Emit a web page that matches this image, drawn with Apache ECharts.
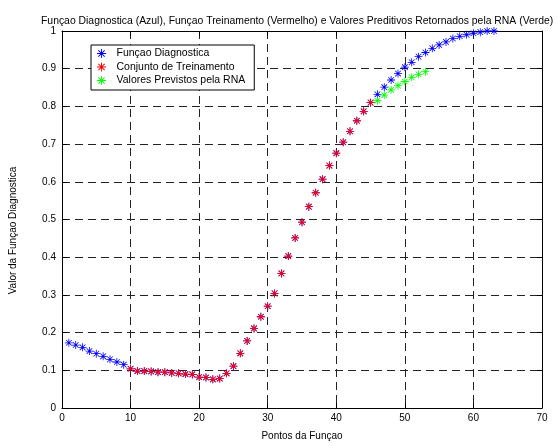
<!DOCTYPE html>
<html>
<head>
<meta charset="utf-8">
<script src="https://cdn.jsdelivr.net/npm/echarts@6/dist/echarts.min.js"></script>
<style>
html,body{margin:0;padding:0;background:#fff;}
#chart{width:557px;height:446px;}
</style>
</head>
<body>
<div id="chart"></div>
<script>
// dados
var xDiag = [];
for (var i = 1; i <= 63; i++) xDiag.push(i);
var yDiag = [0.173,0.167,0.161,0.151,0.144,0.137,0.129,0.122,0.115,0.104,
	0.098,0.098,0.097,0.095,0.095,0.093,0.092,0.090,0.089,0.082,
	0.081,0.076,0.078,0.092,0.111,0.145,0.178,0.211,0.242,0.270,
	0.304,0.357,0.403,0.451,0.493,0.534,0.571,0.607,0.643,0.676,
	0.705,0.734,0.762,0.787,0.810,0.832,0.851,0.870,0.887,0.904,
	0.917,0.932,0.943,0.954,0.963,0.971,0.980,0.986,0.990,0.994,
	0.997,1.000,1.000];
var xTrein = [10,11,12,13,14,15,16,17,18,19,20,21,22,23,24,25,26,27,28,29,30,31,32,33,34,35,36,37,38,39,40,41,42,43,44,45];
var yTrein = [0.104,0.098,0.098,0.097,0.095,0.095,0.093,0.092,0.090,0.089,
	0.082,0.081,0.076,0.078,0.092,0.111,0.145,0.178,0.211,0.242,
	0.270,0.304,0.357,0.403,0.451,0.493,0.534,0.571,0.607,0.643,
	0.676,0.705,0.734,0.762,0.787,0.810];
var xPrev = [46,47,48,49,50,51,52,53];
var yPrev = [0.815,0.830,0.844,0.855,0.866,0.877,0.885,0.892];

var nomes = ['Funçao Diagnostica','Conjunto de Treinamento','Valores Previstos pela RNA'];

// asterisco estilo matlab
var star = 'path://M9 0L11 0L11 20L9 20ZM0 9L20 9L20 11L0 11Z' +
	'M2.3 3.7L3.7 2.3L17.7 16.3L16.3 17.7ZM16.3 2.3L17.7 3.7L3.7 17.7L2.3 16.3Z';

function pares(xs, ys){
	var out = [];
	for (var i = 0; i < xs.length; i++) out.push([xs[i], ys[i]]);
	return out;
}

var fonte = 'Arial, "Liberation Sans", Helvetica, sans-serif';
var grade = {show:true, lineStyle:{color:'#222', type:[8,5], width:1}};
var linha = {show:true, onZero:false, lineStyle:{color:'#000', width:1}};
var tick = {show:true, inside:true, length:5, lineStyle:{color:'#000'}};

var myChart = echarts.init(document.getElementById('chart'));
var option = {
	backgroundColor:'#fff',
	animation:false,
	title:{
		text:'Funçao Diagnostica (Azul), Funçao Treinamento (Vermelho) e Valores Preditivos Retornados pela RNA (Verde)',
		left:36, top:11,
		textStyle:{fontSize:10.4, fontWeight:'normal', color:'#000', fontFamily:fonte}
	},
	grid:{left:61, right:15, top:31, bottom:38},
	legend:{
		orient:'vertical', left:91, top:45,
		data:nomes,
		icon:star,
		itemWidth:20, itemHeight:9, itemGap:2.5,
		padding:[3,9,4,6],
		borderColor:'#000', borderWidth:1, backgroundColor:'#fff',
		textStyle:{fontSize:10.5, color:'#000', fontFamily:fonte}
	},
	xAxis:[{
		type:'value', min:0, max:70, interval:10,
		name:'Pontos da Funçao', nameLocation:'middle', nameGap:23,
		nameTextStyle:{fontSize:10, color:'#000', fontFamily:fonte},
		axisLine:linha, axisTick:tick, splitLine:grade,
		axisLabel:{fontSize:10, color:'#000', fontFamily:fonte, margin:5}
	},{
		type:'value', min:0, max:70, interval:10, position:'top',
		axisLine:linha, axisTick:tick, splitLine:{show:false}, axisLabel:{show:false}
	}],
	yAxis:[{
		type:'value', min:0, max:1, interval:0.1,
		name:'Valor da Funçao Diagnostica', nameLocation:'middle', nameGap:44,
		nameTextStyle:{fontSize:10, color:'#000', fontFamily:fonte, padding:[0,22,0,0]},
		axisLine:linha, axisTick:tick, splitLine:grade,
		axisLabel:{fontSize:10, color:'#000', fontFamily:fonte, margin:6}
	},{
		type:'value', min:0, max:1, interval:0.1, position:'right',
		axisLine:linha, axisTick:tick, splitLine:{show:false}, axisLabel:{show:false}
	}],
	series:[{
		name:nomes[0], type:'scatter', data:pares(xDiag, yDiag),
		symbol:star, symbolSize:8, symbolKeepAspect:true,
		itemStyle:{color:'#0000ff', opacity:1}
	},{
		name:nomes[1], type:'scatter', data:pares(xTrein, yTrein),
		symbol:star, symbolSize:8, symbolKeepAspect:true,
		itemStyle:{color:'#ff0000', opacity:1}
	},{
		name:nomes[2], type:'scatter', data:pares(xPrev, yPrev),
		symbol:star, symbolSize:8, symbolKeepAspect:true,
		itemStyle:{color:'#00ff00', opacity:1}
	}]
};
if (option && typeof option === "object") {
	myChart.setOption(option, true);
}
</script>
</body>
</html>
